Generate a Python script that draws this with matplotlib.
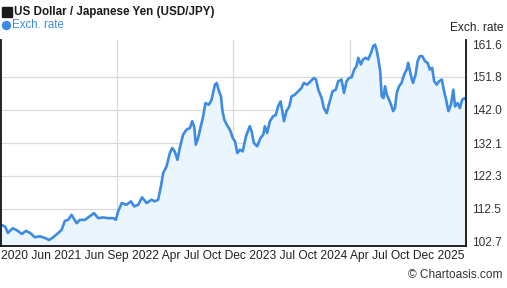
import matplotlib
matplotlib.use("Agg")
import matplotlib.pyplot as plt
from matplotlib.lines import Line2D
import numpy as np
import pandas as pd

plt.rcParams['font.family'] = ['Liberation Sans', 'DejaVu Sans']

title = "US Dollar / Japanese Yen (USD/JPY)"
series_name = "Exch. rate"
axis_title = "Exch. rate"
credit = "\u00a9 Chartoasis.com"

dates = [
    "2020-07-01", "2020-07-17", "2020-07-28", "2020-08-16", "2020-09-01", "2020-09-21",
    "2020-10-07", "2020-10-23", "2020-11-11", "2020-12-01", "2020-12-20", "2021-01-06",
    "2021-01-22", "2021-02-11", "2021-02-24", "2021-03-09", "2021-03-22", "2021-04-04",
    "2021-04-24", "2021-05-07", "2021-05-27", "2021-06-08", "2021-07-01", "2021-07-18",
    "2021-08-06", "2021-08-26", "2021-09-15", "2021-09-25", "2021-10-04", "2021-10-18",
    "2021-11-06", "2021-11-23", "2021-12-06", "2021-12-22", "2022-01-06", "2022-01-24",
    "2022-02-12", "2022-02-25", "2022-03-10", "2022-03-21", "2022-03-30", "2022-04-12",
    "2022-04-25", "2022-05-04", "2022-05-14", "2022-05-25", "2022-06-03", "2022-06-16",
    "2022-06-30", "2022-07-13", "2022-07-22", "2022-07-30", "2022-08-05", "2022-08-14",
    "2022-08-25", "2022-09-03", "2022-09-12", "2022-09-25", "2022-10-06", "2022-10-19",
    "2022-10-26", "2022-11-04", "2022-11-12", "2022-11-17", "2022-11-25", "2022-12-08",
    "2022-12-17", "2022-12-28", "2023-01-06", "2023-01-15", "2023-01-25", "2023-02-05",
    "2023-02-18", "2023-03-05", "2023-03-12", "2023-03-21", "2023-04-03", "2023-04-16",
    "2023-04-27", "2023-05-03", "2023-05-12", "2023-05-23", "2023-06-05", "2023-06-15",
    "2023-06-24", "2023-07-04", "2023-07-12", "2023-07-17", "2023-07-27", "2023-08-07",
    "2023-08-16", "2023-08-29", "2023-09-11", "2023-09-24", "2023-10-03", "2023-10-16",
    "2023-10-30", "2023-11-12", "2023-11-20", "2023-11-29", "2023-12-12", "2023-12-21",
    "2024-01-01", "2024-01-11", "2024-01-24", "2024-02-06", "2024-02-15", "2024-02-28",
    "2024-03-09", "2024-03-19", "2024-03-29", "2024-04-08", "2024-04-18", "2024-04-27",
    "2024-05-04", "2024-05-14", "2024-05-23", "2024-06-02", "2024-06-12", "2024-06-23",
    "2024-07-02", "2024-07-09", "2024-07-16", "2024-07-22", "2024-07-29", "2024-08-04",
    "2024-08-11", "2024-08-17", "2024-08-24", "2024-09-02", "2024-09-12", "2024-09-18",
    "2024-09-25", "2024-10-02", "2024-10-11", "2024-10-21", "2024-10-31", "2024-11-10",
    "2024-11-16", "2024-11-23", "2024-11-29", "2024-12-05", "2024-12-15", "2024-12-23",
    "2025-01-01", "2025-01-10", "2025-01-21", "2025-01-31", "2025-02-09", "2025-02-18",
    "2025-02-26", "2025-03-08", "2025-03-17", "2025-03-28", "2025-04-06", "2025-04-14",
    "2025-04-23", "2025-05-03", "2025-05-12", "2025-05-19", "2025-05-29", "2025-06-07",
    "2025-06-16", "2025-06-26", "2025-07-01",
]

rates = [
    107.7, 107.2, 105.3, 106.7, 106.1, 105.0,
    105.9, 105.3, 104.0, 104.3, 103.8, 103.2,
    104.0, 105.3, 106.2, 108.9, 109.2, 110.7,
    108.2, 109.2, 109.2, 109.9, 111.2, 109.7,
    109.9, 109.7, 109.7, 109.2, 111.7, 114.2,
    113.7, 114.7, 113.2, 113.7, 115.9, 114.2,
    115.2, 114.7, 115.2, 119.2, 123.2, 125.1,
    129.1, 130.6, 129.6, 127.1, 130.6, 134.6,
    136.1, 136.6, 138.6, 136.8, 131.6, 133.6,
    137.1, 140.1, 144.0, 143.5, 145.0, 149.5,
    150.0, 147.5, 146.0, 142.0, 139.0, 137.1,
    136.0, 133.6, 132.6, 129.1, 130.1, 129.6,
    134.1, 137.1, 135.6, 132.1, 131.1, 133.6,
    134.6, 137.1, 135.1, 138.6, 140.1, 140.4,
    143.0, 144.5, 141.0, 138.6, 141.6, 143.0,
    146.0, 146.5, 147.5, 148.5, 150.0, 149.5,
    150.5, 151.5, 151.0, 148.0, 145.5, 142.5,
    141.0, 144.0, 147.5, 148.0, 150.5, 151.0,
    147.0, 150.5, 151.5, 151.7, 154.0, 155.0,
    157.5, 155.5, 157.0, 157.5, 157.0, 159.0,
    161.0, 161.4, 159.5, 157.0, 153.5, 146.0,
    145.5, 149.0, 146.5, 145.0, 143.0, 141.6,
    142.5, 147.0, 149.0, 150.0, 152.5, 154.0,
    156.0, 153.5, 151.5, 150.0, 152.5, 156.5,
    158.0, 158.0, 156.5, 156.0, 154.0, 154.5,
    150.5, 149.5, 150.5, 151.0, 147.5, 145.0,
    141.6, 143.5, 148.0, 143.0, 144.0, 142.5,
    145.0, 145.5, 145.0,
]

y_ticks = [102.7, 112.5, 122.3, 132.1, 142.0, 151.8, 161.6]
y_tick_labels = ["102.7", "112.5", "122.3", "132.1", "142.0", "151.8", "161.6"]
x_labels = ["2020", "Jun", "2021", "Jun", "Sep", "2022", "Apr", "Jul", "Oct", "Dec",
            "2023", "Jul", "Oct", "2024", "Apr", "Jul", "Oct", "Dec", "2025"]

x = pd.to_datetime(dates)
y = np.array(rates)

W, H = 507, 288
fig = plt.figure(figsize=(W / 100, H / 100), dpi=100)
fig.patch.set_facecolor("white")

left, right, top, bottom = 1, 466, 40, 246
ax = fig.add_axes([left / W, 1 - bottom / H, (right - left) / W, (bottom - top) / H])
ax.set_facecolor("white")

ymin, ymax = 101.4, 162.8
x0, x1 = x[0], x[-1]
ax.set_xlim(x0, x1)
ax.set_ylim(ymin, ymax)

line_col = "#3d8be3"
fill_col = "#ebf5fe"
grid_col = "#d9d9d9"

for t in y_ticks[:-1]:
    ax.axhline(t, color=grid_col, lw=0.9, zorder=1)
for k in (1, 2, 3):
    ax.axvline(x0 + (x1 - x0) * k / 4, color=grid_col, lw=0.9, zorder=1)

ax.fill_between(x, y, ymin, color=fill_col, lw=0, zorder=2)
ax.plot(x, y, color=line_col, lw=1.9, zorder=3, solid_joinstyle="round")

for s in ("left", "right", "bottom"):
    ax.spines[s].set_color("#111111")
    ax.spines[s].set_linewidth(1.3)
    ax.spines[s].set_zorder(5)
ax.spines["top"].set_visible(False)

ax.yaxis.tick_right()
ax.set_yticks(y_ticks)
ax.set_yticklabels(y_tick_labels)
ax.tick_params(axis="y", length=0, pad=4, labelsize=8.6, labelcolor="#333333")
ax.set_xticks([])

# x labels (as rendered by the source chart: consecutive labels under the axis)
fig.text(1 / W, 1 - 256.5 / H, " ".join(x_labels), fontsize=8.65, color="#222222",
         ha="left", va="center")

# Header
fig.add_artist(Line2D([6.5 / W], [1 - 12 / H], marker="s", markersize=6.6,
                      color="#1a1a1a", lw=0, transform=fig.transFigure))
fig.text(13.5 / W, 1 - 12 / H, title, fontsize=8.35, fontweight="bold",
         color="#1a1a1a", ha="left", va="center")
fig.add_artist(Line2D([6 / W], [1 - 25 / H], marker="o", markersize=5.8,
                      color=line_col, lw=0, transform=fig.transFigure))
fig.text(12 / W, 1 - 25 / H, series_name, fontsize=8.3, color=line_col,
         ha="left", va="center")

fig.text(503 / W, 1 - 28 / H, axis_title, fontsize=8.6, color="#222222",
         ha="right", va="center")
fig.text(502 / W, 1 - 275 / H, credit, fontsize=8.6, color="#333333",
         ha="right", va="center")

fig.savefig("out.png", dpi=100, facecolor="white")
